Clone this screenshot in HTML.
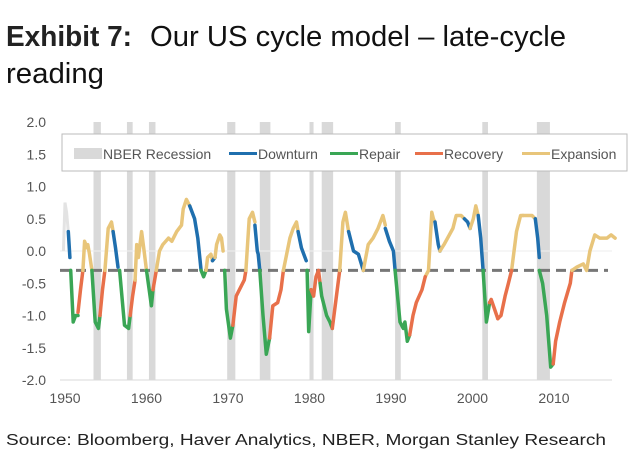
<!DOCTYPE html>
<html><head><meta charset="utf-8"><style>
html,body{margin:0;padding:0;background:#fff;}
svg{display:block;font-family:"Liberation Sans",sans-serif;}
</style></head><body>
<svg id="chart" width="640" height="474" viewBox="0 0 640 474">
<text x="6" y="46" font-size="29" font-weight="bold" fill="#222" textLength="126" lengthAdjust="spacingAndGlyphs">Exhibit 7:</text>
<text x="150" y="46" font-size="29" fill="#111" textLength="416" lengthAdjust="spacingAndGlyphs">Our US cycle model – late-cycle</text>
<text x="6" y="83" font-size="29" fill="#111" textLength="98" lengthAdjust="spacingAndGlyphs">reading</text>
<g id="bands"></g>
<g id="grid"></g>
<g id="xaxis"></g>
<g id="lines"></g>
<g id="legend"></g>
<text x="6" y="445" font-size="15.5" fill="#222" textLength="600" lengthAdjust="spacingAndGlyphs">Source: Bloomberg, Haver Analytics, NBER, Morgan Stanley Research</text>
</svg>
<script>
const recStart=[1953.5,1957.6,1960.3,1969.9,1973.9,1980.0,1981.5,1990.5,2001.2,2007.9];
const recEnd=[1954.4,1958.3,1961.1,1970.9,1975.2,1980.5,1982.9,1991.2,2001.9,2009.5];
const yTicks=[2.0,1.5,1.0,0.5,0.0,-0.5,-1.0,-1.5,-2.0];
const xTicks=[1950,1960,1970,1980,1990,2000,2010];
const threshold=-0.3;
const phaseNames=["Downturn","Repair","Recovery","Expansion"];
const phaseColors=["#1f6fae","#3aa655","#e8704a","#e8c57a"];
const preYears=[1949.8,1950.0,1950.2,1950.4];
const preVals=[0.0,0.75,0.6,0.3];
const segPhase=[0,1,2,3,1,2,3,0,1,2,3,1,2,3,0,1,3,0,3,1,2,3,0,1,2,3,0,1,2,1,2,3,0,3,0,3,0,1,2,3,0,3,0,3,0,1,2,3,1,2,2,3];
const segYears=[
[1950.4,1950.6],
[1950.7,1951.0,1951.3,1951.6],
[1951.6,1951.9,1952.2],
[1952.2,1952.4,1952.7,1952.8,1953.0,1953.3],
[1953.3,1953.7,1954.1,1954.3],
[1954.3,1954.6,1954.9],
[1954.9,1955.3,1955.7,1955.9],
[1955.9,1956.2,1956.5],
[1956.7,1957.3,1957.8,1958.0],
[1958.0,1958.3,1958.6],
[1958.6,1958.8,1959.0,1959.4,1959.7,1960.0],
[1960.0,1960.6,1960.8],
[1960.8,1961.2],
[1961.2,1961.6,1962.0,1962.7,1963.1,1963.7,1964.3,1964.5,1964.9,1965.3],
[1965.3,1965.9,1966.3,1966.7],
[1966.7,1967.0,1967.3],
[1967.3,1967.5,1967.9,1968.1],
[1968.1,1968.4],
[1968.4,1968.6,1969.0,1969.2,1969.4],
[1969.6,1969.8,1970.3,1970.6],
[1970.6,1971.0,1971.4,1972.0,1972.2],
[1972.2,1972.6,1973.0,1973.3],
[1973.3,1973.6,1973.7,1973.9],
[1973.9,1974.3,1974.7,1975.1],
[1975.1,1975.5,1976.1,1976.5,1976.8],
[1976.8,1977.6,1978.0,1978.4,1978.6],
[1978.6,1979.0,1979.6],
[1979.7,1979.9,1980.2],
[1980.2,1980.5,1980.8,1981.1,1981.3],
[1981.3,1981.5,1982.1,1982.5,1982.8],
[1982.8,1983.2,1983.7],
[1983.7,1984.1,1984.4,1984.8],
[1984.8,1985.4,1986.0,1986.6],
[1986.6,1987.2,1987.8,1988.4,1989.0,1989.3],
[1989.3,1989.8,1990.3,1990.5],
[1994.2,1994.6,1995.0,1995.2,1995.4],
[1995.4,1995.8,1996.0],
[1990.5,1991.1,1991.5,1991.7,1992.0,1992.3],
[1992.3,1992.7,1993.1,1993.8,1994.2],
[1996.0,1996.5,1997.6,1998.0,1998.6,1999.0],
[1999.0,1999.4,1999.7],
[1999.7,2000.1,2000.4,2000.7],
[2000.7,2001.0,2001.3],
[2006.2,2006.6,2007.3,2007.7],
[2007.7,2008.0,2008.2],
[2001.3,2001.7,2002.1],
[2002.1,2002.3,2002.7,2003.1],
[2004.8,2005.4,2005.9,2006.2],
[2008.2,2008.6,2009.1,2009.6,2009.9],
[2009.9,2010.2,2010.7,2011.3,2012.0,2012.2],
[2003.1,2003.5,2004.0,2004.4,2004.8],
[2012.2,2012.8,2013.6,2014.0,2014.4,2015.0,2015.6,2016.5,2017.0,2017.5]
];
const segVals=[
[0.3,-0.1],
[-0.3,-1.1,-1.0,-1.0],
[-0.95,-0.6,-0.3],
[-0.3,0.15,0.05,0.1,-0.05,-0.3],
[-0.3,-1.1,-1.2,-1.0],
[-1.0,-0.6,-0.3],
[-0.3,0.35,0.45,0.3],
[0.3,0.05,-0.25],
[-0.3,-1.15,-1.2,-1.0],
[-1.0,-0.7,-0.45],
[-0.45,0.1,-0.1,0.3,0.0,-0.3],
[-0.3,-0.85,-0.6],
[-0.6,-0.3],
[-0.3,0.0,0.1,0.2,0.15,0.3,0.4,0.65,0.8,0.7],
[0.7,0.5,0.2,-0.3],
[-0.3,-0.4,-0.3],
[-0.3,-0.1,-0.05,-0.15],
[-0.15,-0.1],
[-0.1,0.1,0.25,0.2,0.0],
[-0.3,-0.9,-1.35,-1.15],
[-1.15,-0.7,-0.6,-0.45,-0.3],
[-0.3,0.5,0.6,0.45],
[0.4,0.0,-0.05,-0.3],
[-0.3,-1.0,-1.6,-1.35],
[-1.35,-0.85,-0.8,-0.6,-0.3],
[-0.3,0.2,0.35,0.45,0.3],
[0.3,0.05,-0.15],
[-0.3,-1.25,-0.6],
[-0.6,-0.7,-0.4,-0.3,-0.5],
[-0.5,-0.7,-1.0,-1.1,-1.2],
[-1.2,-0.8,-0.3],
[-0.3,0.45,0.6,0.3],
[0.3,0.0,-0.05,-0.3],
[-0.3,0.1,0.2,0.35,0.55,0.4],
[0.35,0.15,0.0,-0.3],
[-0.4,-0.3,0.6,0.5,0.45],
[0.45,0.1,0.0],
[-0.3,-1.1,-1.2,-1.1,-1.4,-1.3],
[-1.3,-1.0,-0.8,-0.6,-0.4],
[0.0,0.1,0.35,0.55,0.55,0.5],
[0.5,0.45,0.35],
[0.35,0.5,0.7,0.55],
[0.55,0.2,-0.3],
[0.55,0.55,0.55,0.5],
[0.5,0.2,-0.1],
[-0.3,-1.1,-0.8],
[-0.8,-0.75,-0.9,-1.05],
[-0.3,0.3,0.55,0.55],
[-0.3,-0.5,-1.0,-1.8,-1.75],
[-1.75,-1.4,-1.1,-0.8,-0.5,-0.3],
[-1.05,-1.0,-0.7,-0.5,-0.3],
[-0.3,-0.25,-0.2,-0.3,0.0,0.25,0.2,0.2,0.25,0.2]
];
const NS="http://www.w3.org/2000/svg";
const X0=60,X1=612,Y0=122,Y1=380;
function xs(y){return 65+(y-1950)*8.15;}
function ys(v){return Y0+(2-v)/4*(Y1-Y0);}
function mk(tag,attrs,parent){const e=document.createElementNS(NS,tag);for(const k in attrs)e.setAttribute(k,attrs[k]);parent.appendChild(e);return e;}
const bands=document.getElementById('bands');
recStart.forEach((s,i)=>{
  const r=mk('rect',{x:xs(s),y:Y0,width:Math.max(3,xs(recEnd[i])-xs(s)),height:Y1-Y0,fill:'#d9d9d9'},bands);
  
  
});
const grid=document.getElementById('grid');
yTicks.forEach(v=>{
  if(v===0){
    const l=mk('line',{x1:X0,x2:X1,y1:ys(v),y2:ys(v),stroke:'#eeeeee','stroke-width':1},grid);
    
    
  }
  const t=mk('text',{x:46,y:ys(v)+5,'text-anchor':'end','font-size':14,fill:'#555'},grid);
  t.textContent=v.toFixed(1);
  
  
});
const bl=mk('line',{x1:X0,x2:X1,y1:Y1,y2:Y1,stroke:'#d9d9d9','stroke-width':1},grid);


const xa=document.getElementById('xaxis');
xTicks.forEach(y=>{
  const t=mk('text',{x:xs(y),y:403,'text-anchor':'middle','font-size':14,fill:'#555'},xa);
  t.textContent=y;
  
  
});
const lines=document.getElementById('lines');
const th=mk('line',{x1:X0,x2:X1-4,y1:ys(threshold),y2:ys(threshold),stroke:'#777','stroke-width':3,'stroke-dasharray':'10 6'},lines);


const pre=mk('polyline',{points:preYears.map((y,j)=>xs(y).toFixed(1)+','+ys(preVals[j]).toFixed(1)).join(' '),fill:'none',stroke:'#e3e3e3','stroke-width':3},lines);


segYears.forEach((yrs,i)=>{
  const pts=yrs.map((y,j)=>xs(y).toFixed(1)+','+ys(segVals[i][j]).toFixed(1)).join(' ');
  const p=mk('polyline',{points:pts,fill:'none',stroke:phaseColors[segPhase[i]],'stroke-width':3.5,'stroke-linejoin':'round','stroke-linecap':'round'},lines);
  
  
});
const lg=document.getElementById('legend');
const box=mk('rect',{x:62,y:134,width:565,height:37,fill:'#fff',stroke:'#bbb','stroke-width':1},lg);


const sw=mk('rect',{x:74,y:148,width:28,height:11,fill:'#d9d9d9'},lg);


const lt=mk('text',{x:103,y:159,'font-size':14,fill:'#555'},lg);
lt.textContent='NBER Recession';


const lx=[229,330,415,522];
phaseNames.forEach((n,i)=>{
  const l=mk('line',{x1:lx[i],x2:lx[i]+28,y1:153.5,y2:153.5,stroke:phaseColors[i],'stroke-width':3},lg);
  
  
  const t=mk('text',{x:lx[i]+29,y:159,'font-size':14,fill:'#555'},lg);
  t.textContent=n;
  
  
});
</script>
</body></html>
